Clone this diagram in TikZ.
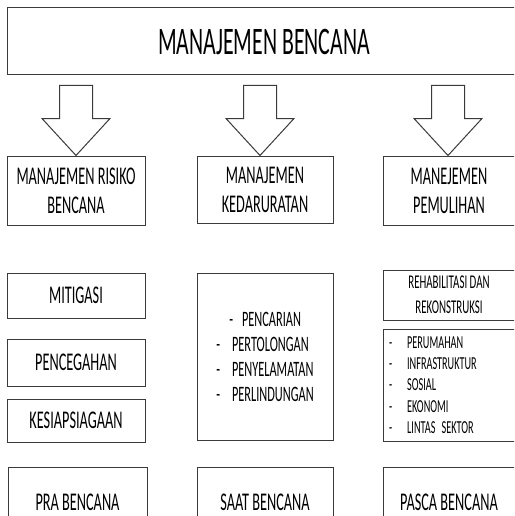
\documentclass[tikz,border=0pt]{standalone}
\usepackage{fontspec}
\setmainfont{Carlito}[FakeStretch=0.56]
\usepackage{tikz}
\usetikzlibrary{positioning}
\definecolor{edge}{HTML}{3A3A3A}

\begin{document}
\begin{tikzpicture}[x=1pt, y=-1pt,
    box/.style={draw=edge, line width=1pt, minimum width=138pt, minimum height=45pt, align=center, inner sep=2pt, font=\fontsize{25.5}{29}\selectfont},
    listbox/.style={box, font=\fontsize{22}{25}\selectfont},
    blockarr/.style={draw=edge, line width=1pt, fill=white, line join=miter}
]
    \useasboundingbox (0,0) rectangle (514,516);
    \clip (0,0) rectangle (514,516);

    \node[box, minimum width=514pt, minimum height=67pt, font=\fontsize{39}{44}\selectfont] (title) at (264,41.5) {MANAJEMEN BENCANA};

    % second row
    \node[box, minimum height=69pt] (risiko) at (76,190.5) {MANAJEMEN RISIKO\\BENCANA};
    \node[box, minimum width=136pt, minimum height=67pt] (darurat) at (265,189.5) {MANAJEMEN\\KEDARURATAN};
    \node[box, minimum width=132pt, minimum height=69pt] (pulih) at (449,190.5) {MANEJEMEN\\PEMULIHAN};

    \foreach \bx/\dx in {risiko/0, darurat/-5, pulih/-1}
        \draw[blockarr] ([xshift=\dx pt]\bx.north) -- ++(34,-37) -- ++(-17.5,0) -- ++(0,-33) -- ++(-33,0) -- ++(0,33) -- ++(-17.5,0) -- cycle;

    % pra bencana
    \node[box] (mitigasi) at (76,295.5) {MITIGASI};
    \node[box, minimum height=47pt, below=20pt of mitigasi] (cegah) {PENCEGAHAN};
    \node[box, minimum height=43pt, below=12pt of cegah] (siaga) {KESIAPSIAGAAN};

    % saat bencana
    \node[listbox, minimum width=136pt, minimum height=167pt, align=left] (tanggap) at (265,356.5)
        {\hspace*{13pt}-\hspace{9pt}PENCARIAN\\
         -\hspace{12pt}PERTOLONGAN\\
         -\hspace{12pt}PENYELAMATAN\\
         -\hspace{12pt}PERLINDUNGAN};

    % pasca bencana
    \node[box, minimum width=132pt, minimum height=50pt, font=\fontsize{19.5}{25}\selectfont] (rehab) at (449,295) {REHABILITASI DAN\\REKONSTRUKSI};
    \node[box, minimum width=132pt, minimum height=112pt, text width=124pt, align=left, font=\fontsize{18.3}{21.3}\selectfont, below=8pt of rehab] (sektor)
        {\hspace*{2pt}-\hspace{15pt}PERUMAHAN\\
         \hspace*{2pt}-\hspace{15pt}INFRASTRUKTUR\\
         \hspace*{2pt}-\hspace{15pt}SOSIAL\\
         \hspace*{2pt}-\hspace{15pt}EKONOMI\\
         \hspace*{2pt}-\hspace{15pt}LINTAS SEKTOR};

    % bottom row
    \node[box, minimum width=139pt, minimum height=70pt] (pra) at (77.5,502) {PRA BENCANA};
    \node[box, minimum width=136pt, minimum height=70pt] (saat) at (265,502) {SAAT BENCANA};
    \node[box, minimum width=132pt, minimum height=70pt] (pasca) at (449,502) {PASCA BENCANA};
\end{tikzpicture}
\end{document}
